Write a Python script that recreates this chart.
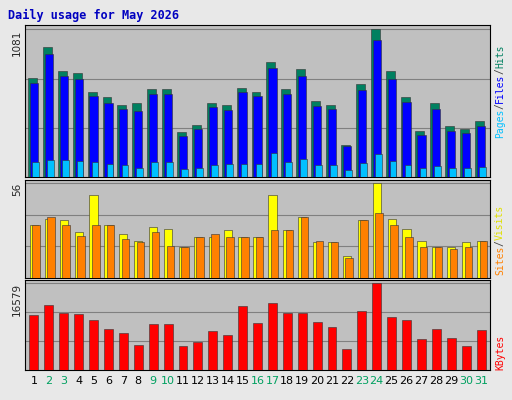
import numpy as np, pandas as pd, seaborn as sns, matplotlib
matplotlib.use("Agg")
import matplotlib.pyplot as plt

days = list(range(1, 32))
hits = [727, 954, 778, 764, 625, 588, 530, 544, 647, 647, 329, 380, 544, 530, 654, 625, 844, 647, 793, 555, 530, 234, 683, 1081, 778, 588, 336, 540, 372, 350, 409]
files = [690, 900, 740, 720, 590, 540, 500, 480, 610, 610, 300, 350, 510, 490, 620, 590, 800, 610, 740, 520, 500, 230, 640, 1000, 720, 550, 310, 500, 340, 320, 370]
pages = [110, 124, 124, 117, 110, 95, 88, 66, 110, 110, 58, 66, 88, 95, 95, 95, 175, 110, 131, 88, 88, 51, 102, 168, 117, 88, 66, 80, 66, 66, 73]
visits = [31, 35, 34, 27, 49, 31, 26, 22, 30, 29, 18, 24, 24, 28, 24, 24, 49, 28, 36, 21, 21, 13, 34, 56, 35, 29, 22, 18, 18, 21, 22]
sites = [31, 36, 31, 25, 31, 31, 23, 21, 27, 19, 18, 24, 26, 24, 24, 24, 28, 28, 36, 22, 21, 12, 34, 38, 31, 24, 18, 18, 17, 18, 22]
kbytes = [10350, 12300, 10900, 10550, 9500, 7800, 7100, 4660, 8800, 8800, 4480, 5300, 7450, 6550, 12100, 8980, 12650, 10900, 10900, 9150, 8100, 3950, 11100, 16579, 10000, 9500, 5800, 7800, 6000, 4480, 7600]
weekend = [2, 3, 9, 10, 16, 17, 23, 24, 30, 31]

sns.set_style("white")
fig = plt.figure(figsize=(5.12, 4.0), dpi=100, facecolor="#E8E8E8")
L, W = 25/512, 465/512
axs = [fig.add_axes([L, 1-177/400, W, 152/400]),
       fig.add_axes([L, 1-278/400, W, 98/400]),
       fig.add_axes([L, 1-370/400, W, 90/400])]

def bars(ax, vals, off, color, w):
    df = pd.DataFrame({"x": np.array(days) + off, "y": vals})
    sns.barplot(data=df, x="x", y="y", native_scale=True, ax=ax, color=color,
                width=w, saturation=1, edgecolor="#333333", linewidth=0.4, zorder=3)

bars(axs[0], hits, -0.1, "#008060", 0.6)
bars(axs[0], files, 0.0, "#0000FF", 0.55)
bars(axs[0], pages, 0.1, "#00C0FF", 0.45)
bars(axs[1], visits, 0.0, "#FFFF00", 0.55)
bars(axs[1], sites, 0.15, "#FF8000", 0.5)
bars(axs[2], kbytes, 0.0, "#FF0000", 0.6)

for ax, mx in zip(axs, [1081, 56, 16579]):
    ax.set_facecolor("#C0C0C0")
    for f in (1/3, 2/3, 1):
        ax.axhline(mx*f, color="#808080", lw=0.8, zorder=1)
    ax.set_xlim(0.4, 31.6)
    ax.set_ylim(0, mx*1.03)
    ax.set_xticks([])
    ax.set_yticks([mx]); ax.set_yticklabels([str(mx)], rotation=90, va="top", fontsize=7.5)
    ax.tick_params(axis="y", length=0, pad=2)
    ax.set_xlabel(""); ax.set_ylabel("")
    for s in ax.spines.values():
        s.set_color("#000000"); s.set_linewidth(0.8)

for d in days:
    axs[2].text(d, -0.12, str(d), transform=axs[2].get_xaxis_transform(), ha="center", va="center",
                fontsize=8, color="#00A060" if d in weekend else "#000000")

fig.text(8/512, 1-15/400, "Daily usage for May 2026", color="#0000C0", fontsize=8.5,
         fontweight="bold", family="DejaVu Sans Mono", va="center")

FS = 7.0
CW = 0.602 * FS * 100 / 72
def side(parts, y0):
    y = y0
    for t, c in parts:
        fig.text(500/512, y/400, t, rotation=90, color=c, fontsize=FS, ha="center", va="bottom",
                 family="DejaVu Sans Mono")
        y += len(t) * CW
side([("Pages", "#00C0FF"), ("/", "#444444"), ("Files", "#0000FF"), ("/", "#444444"), ("Hits", "#008060")], 400-138)
side([("Sites", "#FF8000"), ("/", "#444444"), ("Visits", "#E0E000")], 400-275)
side([("KBytes", "#FF0000")], 400-370)

fig.savefig("out.png", dpi=100, facecolor=fig.get_facecolor())
